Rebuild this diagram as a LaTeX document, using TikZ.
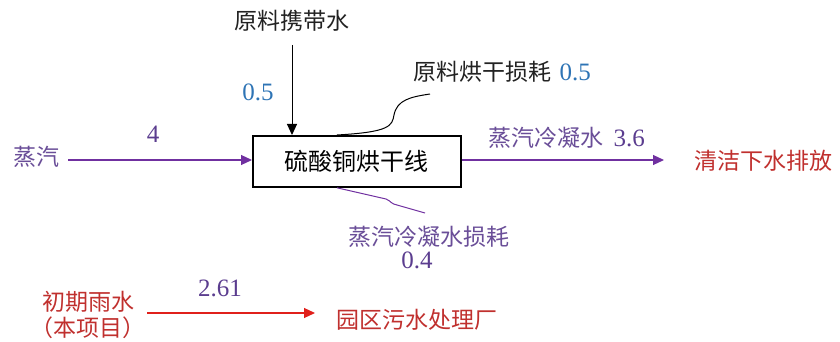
\documentclass[tikz,border=0pt]{standalone}
\usepackage{fontspec}
\newfontfamily\cjk{Noto Sans CJK SC}
\setmainfont{Liberation Serif}
\usetikzlibrary{arrows.meta}
\definecolor{lpurple}{HTML}{7030A0}
\definecolor{tpurple}{HTML}{6A4E98}
\definecolor{npurple}{HTML}{5B3D8F}
\definecolor{nblue}{HTML}{2E74B5}
\definecolor{tred}{HTML}{C0302E}
\definecolor{lred}{HTML}{E0201B}
\definecolor{tgray}{HTML}{222222}
\tikzset{
  lbl/.style={font=\cjk\fontsize{23}{25}\selectfont, inner sep=0pt},
  num/.style={font=\fontsize{25}{27}\selectfont, inner sep=0pt},
  flow/.style={line width=1.1pt, -{Triangle[length=11pt,width=10pt]}},
}
\begin{document}
\begin{tikzpicture}[x=1pt,y=-1pt]
\useasboundingbox (0,0) rectangle (840,342);
% main box
\node[draw=black, line width=1.8pt, minimum width=208pt, minimum height=51pt, inner sep=0pt,
      font=\cjk\fontsize{24}{26}\selectfont, anchor=north west] (box) at (252,135) {硫酸铜烘干线};
% top input
\node[lbl, text=tgray] (carry) at (292,21) {原料携带水};
\coordinate (ctop) at (292,45);
\draw[flow, black, line width=1pt] (ctop) -- (box.north -| ctop);
\node[num, text=nblue] (n05a) at (258,92) {0.5};
% drying loss
\node[lbl, text=tgray, anchor=west] (dryloss) at (413,72) {原料烘干损耗};
\node[num, text=nblue, anchor=west] (n05b) at (dryloss.east) [xshift=8pt] {0.5};
\coordinate (dl) at (430,94);
\draw[black, line width=1pt] (box.north -| 337,0) .. controls (390,132) and (392,126) .. (394,115)
   .. controls (397,100) and (410,97) .. (dl);
% steam input
\node[lbl, text=tpurple, anchor=west] (steam) at (13,157) {蒸汽};
\coordinate (s0) at (68,160);
\draw[flow, lpurple] (s0) -- (box.west |- s0);
\node[num, text=npurple] (n4) at (153,134) {4};
% condensate output
\node[lbl, text=tred, anchor=west] (clean) at (694,161) {清洁下水排放};
\coordinate (cend) at (664,160);
\draw[flow, lpurple] (box.east |- cend) -- (cend);
\node[lbl, text=tpurple, anchor=west] (cond) at (488,138) {蒸汽冷凝水};
\node[num, text=npurple, anchor=west] (n36) at (cond.east) [xshift=10pt] {3.6};
% condensate loss
\coordinate (cl) at (425,213);
\draw[lpurple, line width=1pt] (box.south -| 337,0) -- (386,199) .. controls (391,201) and (391,204) .. (397,205) -- (cl);
\node[lbl, text=tpurple] (closs) at (429,237) {蒸汽冷凝水损耗};
\node[num, text=npurple] (n04) at (417,260) {0.4};
% rain water
\node[lbl, text=tred] (rain) at (88,302) {初期雨水};
\node[lbl, text=tred] (rain2) at (88,328) {（本项目）};
\node[lbl, text=tred, anchor=west] (plant) at (336,320) {园区污水处理厂};
\coordinate (r0) at (147,313);
\coordinate (r1) at (315,313);
\draw[flow, lred] (r0) -- (r1);
\node[num, text=npurple] (n261) at (220,288) {2.61};
\end{tikzpicture}
\end{document}
